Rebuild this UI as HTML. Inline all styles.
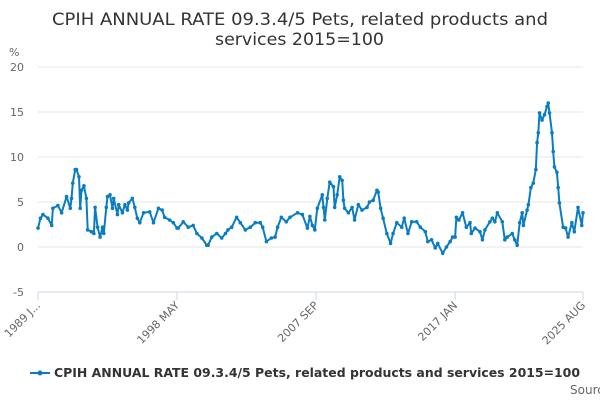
<!DOCTYPE html>
<html><head><meta charset="utf-8"><style>
body{margin:0;background:#fff;font-family:"DejaVu Sans","Liberation Sans",sans-serif;}
svg text{font-family:"DejaVu Sans","Liberation Sans",sans-serif;}
</style></head><body>
<svg id="chart" width="600" height="400" xmlns="http://www.w3.org/2000/svg">
<text x="52" y="25" textLength="496" lengthAdjust="spacingAndGlyphs" font-size="17" fill="#333">CPIH ANNUAL RATE 09.3.4/5 Pets, related products and</text>
<text x="215" y="45" textLength="169" lengthAdjust="spacingAndGlyphs" font-size="17" fill="#333">services 2015=100</text>
<text x="9" y="56" font-size="11" fill="#666">%</text>
<g id="grid"></g>
<g id="xaxis"></g>
<g id="series"></g>
<g>
<line x1="30" y1="373" x2="50" y2="373" stroke="#0a7dc2" stroke-width="2"/>
<circle cx="40" cy="373" r="2.5" fill="#0a7dc2"/>
<text x="54" y="377" textLength="526" lengthAdjust="spacingAndGlyphs" font-size="12" font-weight="bold" fill="#333">CPIH ANNUAL RATE 09.3.4/5 Pets, related products and services 2015=100</text>
</g>
<text x="570" y="394" font-size="12" fill="#666">Source:</text>
</svg>
<script>
const months = [0,2,4,8,11,12,16,19,23,26,27,28,30,31,33,34,35,37,39,40,43,45,46,48,50,52,53,55,56,58,60,61,64,65,68,70,72,73,76,78,80,82,85,90,93,97,100,102,106,109,112,113,117,121,125,128,132,136,137,140,144,148,151,153,156,160,163,167,171,175,179,181,184,188,191,193,196,200,203,209,213,217,219,221,223,225,229,230,231,233,235,238,239,241,243,245,246,247,250,253,255,258,261,265,267,270,273,274,276,278,281,284,286,289,293,295,298,301,305,308,312,314,317,320,322,326,329,332,334,336,337,339,342,345,348,349,352,356,358,360,364,366,368,370,374,376,378,382,384,386,388,390,391,394,395,397,399,401,402,403,404,406,408,410,411,412,414,415,416,418,419,420,423,425,427,430,432,435,438,439];
const values = [2.1,3.2,3.6,3.2,2.4,4.3,4.6,3.8,5.6,4.3,5.4,7.1,8.6,8.6,7.8,4.3,6.3,6.8,5.4,1.9,1.7,1.5,4.4,2.2,1.1,2.2,1.5,4.4,5.6,5.8,4.3,5.4,3.6,4.7,3.8,4.7,4.1,4.9,5.4,4.4,3.2,2.7,3.8,3.9,2.7,4.3,4.1,3.3,3.0,2.7,2.1,2.1,2.8,2.2,2.4,1.5,1.0,0.2,0.2,1.1,1.5,1.0,1.5,1.9,2.2,3.3,2.7,1.9,2.2,2.7,2.7,2.2,0.6,1.0,1.1,2.2,3.3,2.8,3.3,3.8,3.6,2.1,3.4,2.4,1.9,4.3,5.8,4.4,3.0,5.4,7.2,6.7,4.4,5.8,7.8,7.4,5.2,4.3,3.8,4.4,3.0,4.7,4.1,4.4,5.0,5.2,6.3,6.1,4.3,3.2,1.5,0.4,1.5,2.7,2.2,3.2,1.5,2.8,2.8,2.2,1.7,0.6,0.8,-0.1,0.4,-0.7,0,0.6,1.1,1.1,3.3,3.0,3.8,2.2,2.7,1.5,2.1,1.7,0.8,1.9,2.8,3.2,2.8,3.8,2.8,0.8,1.1,1.5,0.8,0.2,2.7,3.8,2.4,4.1,4.7,6.6,7.1,8.6,11.6,12.7,14.9,14.1,14.7,15.6,16.0,14.9,12.7,10.6,8.9,8.3,6.6,4.9,2.2,2.1,1.1,2.7,1.7,4.4,2.4,3.8];
const yTicks = [20,15,10,5,0,-5];
const xTickMonths = [0,112,224,336,439];
const xTickLabels = ["1989 J...","1998 MAY","2007 SEP","2017 JAN","2025 AUG"];

const NS="http://www.w3.org/2000/svg";
const X0=38,X1=583,Y0=67,Y1=292,TOTAL=439;
function xs(m){return X0+(X1-X0)*m/TOTAL;}
function ys(v){return Y0+(20-v)*(Y1-Y0)/25;}
const grid=document.getElementById('grid');
yTicks.forEach(t=>{
  const l=document.createElementNS(NS,'line');
  
  
  l.setAttribute('x1',X0);l.setAttribute('x2',X1);l.setAttribute('y1',ys(t));l.setAttribute('y2',ys(t));
  l.setAttribute('stroke',t===-5?'#ccd6eb':'#e6e6e6');l.setAttribute('stroke-width','1');
  grid.appendChild(l);
  const tx=document.createElementNS(NS,'text');
  
  
  tx.setAttribute('x',24);tx.setAttribute('y',ys(t)+4);tx.setAttribute('text-anchor','end');
  tx.setAttribute('font-size','11');tx.setAttribute('fill','#666');tx.textContent=t;
  grid.appendChild(tx);
});
const xa=document.getElementById('xaxis');
xTickMonths.forEach((m,i)=>{
  const x=xs(m);
  const l=document.createElementNS(NS,'line');
  
  
  l.setAttribute('x1',x);l.setAttribute('x2',x);l.setAttribute('y1',Y1);l.setAttribute('y2',Y1+8);
  l.setAttribute('stroke','#ccd6eb');xa.appendChild(l);
  const tx=document.createElementNS(NS,'text');
  
  
  tx.setAttribute('x',x+3);tx.setAttribute('y',Y1+14);tx.setAttribute('text-anchor','end');
  tx.setAttribute('font-size','11');tx.setAttribute('fill','#666');
  tx.setAttribute('transform','rotate(-45 '+(x+3)+' '+(Y1+14)+')');
  tx.textContent=xTickLabels[i];xa.appendChild(tx);
});
const s=document.getElementById('series');
const p=document.createElementNS(NS,'path');


p.setAttribute('d',months.map((m,i)=>(i?'L':'M')+xs(m).toFixed(1)+' '+ys(values[i]).toFixed(1)).join(' '));
p.setAttribute('fill','none');p.setAttribute('stroke','#0a7dc2');p.setAttribute('stroke-width','2');
p.setAttribute('stroke-linejoin','round');
s.appendChild(p);
months.forEach((m,i)=>{
  const c=document.createElementNS(NS,'circle');
  
  
  c.setAttribute('cx',xs(m));c.setAttribute('cy',ys(values[i]));c.setAttribute('r','1.8');
  c.setAttribute('fill','#0a7dc2');s.appendChild(c);
});
</script>
</body></html>
